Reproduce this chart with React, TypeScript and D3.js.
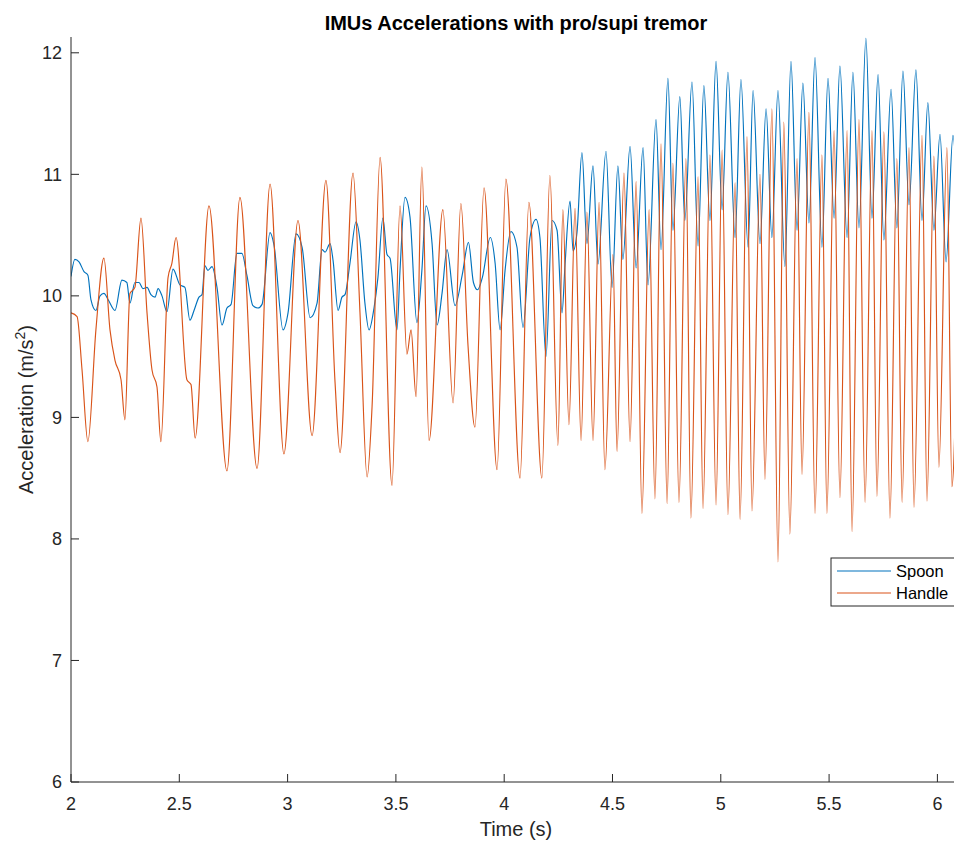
import React from "react";
import * as d3 from "d3";

// Handle (orange) — [time s, acceleration m/s²]
const handleSeries: [number, number][] = [
  [2.000, 9.86], [2.028, 9.83], [2.051, 9.39], [2.078, 8.80], [2.115, 9.72], [2.152, 10.31], [2.180, 9.72], [2.203, 9.47],
  [2.231, 9.31], [2.249, 8.98], [2.272, 10.02], [2.295, 10.07], [2.323, 10.64], [2.351, 9.86], [2.374, 9.39], [2.397, 9.25],
  [2.415, 8.80], [2.448, 10.15], [2.466, 10.27], [2.485, 10.48], [2.535, 9.31], [2.554, 9.27], [2.573, 8.83], [2.637, 10.74],
  [2.720, 8.56], [2.780, 10.81], [2.859, 8.58], [2.919, 10.92], [2.983, 8.70], [3.048, 10.62], [3.113, 8.85], [3.177, 10.95],
  [3.219, 9.29], [3.242, 8.71], [3.302, 11.01], [3.334, 9.87], [3.367, 8.51], [3.390, 9.09], [3.427, 11.14], [3.482, 8.44],
  [3.519, 10.74], [3.551, 9.52], [3.570, 9.72], [3.593, 9.17], [3.620, 11.06], [3.653, 8.81], [3.717, 10.71], [3.764, 9.12],
  [3.800, 10.76], [3.833, 9.59], [3.865, 8.92], [3.907, 10.89], [3.967, 8.57], [4.008, 10.96], [4.073, 8.50], [4.114, 10.77],
  [4.174, 8.50], [4.211, 10.99], [4.248, 8.77], [4.271, 10.71], [4.299, 8.94], [4.327, 10.72], [4.355, 8.81], [4.382, 10.69],
  [4.410, 8.81], [4.438, 10.77], [4.465, 8.57], [4.502, 10.34], [4.521, 8.72], [4.553, 11.01], [4.581, 8.80], [4.609, 10.94],
  [4.636, 8.21], [4.669, 10.71], [4.696, 8.33], [4.724, 11.25], [4.752, 8.29], [4.779, 11.09], [4.807, 8.30], [4.839, 11.13],
  [4.862, 8.17], [4.895, 10.98], [4.918, 8.25], [4.950, 11.16], [4.978, 8.28], [5.006, 11.20], [5.033, 8.20], [5.066, 10.93],
  [5.089, 8.16], [5.121, 11.31], [5.144, 8.23], [5.181, 11.00], [5.204, 8.49], [5.236, 11.54], [5.264, 7.81], [5.291, 11.43],
  [5.319, 8.04], [5.352, 11.13], [5.375, 8.53], [5.407, 11.51], [5.435, 8.21], [5.467, 11.16], [5.490, 8.21], [5.523, 11.36],
  [5.550, 8.34], [5.583, 11.36], [5.606, 8.06], [5.638, 11.45], [5.666, 8.30], [5.698, 11.36], [5.721, 8.35], [5.753, 11.35],
  [5.781, 8.17], [5.813, 11.13], [5.837, 8.30], [5.869, 11.22], [5.892, 8.26], [5.929, 11.32], [5.952, 8.31], [5.984, 11.15],
  [6.007, 8.59], [6.044, 11.22], [6.067, 8.43], [6.090, 9.55],
];

// Spoon (blue) — [time s, acceleration m/s²]
const spoonSeries: [number, number][] = [
  [2.000, 10.16], [2.018, 10.30], [2.037, 10.28], [2.060, 10.20], [2.078, 10.17], [2.092, 9.97], [2.115, 9.88], [2.134, 10.00],
  [2.152, 10.02], [2.171, 9.97], [2.203, 9.88], [2.235, 10.13], [2.258, 10.11], [2.272, 9.94], [2.295, 10.11], [2.314, 10.11],
  [2.332, 10.06], [2.351, 10.07], [2.369, 10.01], [2.388, 9.99], [2.402, 10.06], [2.420, 10.00], [2.443, 9.87], [2.471, 10.22],
  [2.503, 10.09], [2.526, 10.07], [2.549, 9.80], [2.568, 9.88], [2.591, 9.99], [2.605, 10.01], [2.618, 10.25], [2.632, 10.21],
  [2.651, 10.24], [2.674, 10.07], [2.697, 9.76], [2.720, 9.90], [2.739, 9.93], [2.766, 10.35], [2.789, 10.35], [2.812, 10.17],
  [2.840, 9.92], [2.863, 9.90], [2.882, 9.93], [2.919, 10.52], [2.937, 10.42], [2.979, 9.72], [3.002, 9.86], [3.039, 10.51],
  [3.067, 10.40], [3.104, 9.82], [3.136, 9.94], [3.159, 10.38], [3.173, 10.36], [3.196, 10.43], [3.210, 10.29], [3.233, 9.88],
  [3.251, 9.99], [3.265, 10.01], [3.288, 10.27], [3.316, 10.61], [3.334, 10.46], [3.357, 9.94], [3.376, 9.72], [3.399, 9.90],
  [3.417, 10.15], [3.440, 10.64], [3.459, 10.34], [3.473, 10.31], [3.505, 9.72], [3.519, 10.21], [3.542, 10.81], [3.565, 10.65],
  [3.597, 9.78], [3.620, 10.21], [3.639, 10.74], [3.667, 10.43], [3.690, 9.76], [3.713, 10.02], [3.736, 10.38], [3.773, 9.92],
  [3.806, 10.17], [3.835, 10.44], [3.858, 10.11], [3.877, 10.05], [3.899, 10.15], [3.936, 10.48], [3.958, 10.27], [3.981, 9.72],
  [4.004, 10.21], [4.031, 10.53], [4.059, 10.40], [4.087, 9.74], [4.119, 10.48], [4.147, 10.63], [4.165, 10.48], [4.193, 9.50],
  [4.221, 10.62], [4.244, 10.54], [4.267, 9.86], [4.281, 10.26], [4.304, 10.78], [4.318, 10.37], [4.336, 10.52], [4.359, 11.18],
  [4.382, 10.43], [4.410, 11.07], [4.433, 10.26], [4.470, 11.19], [4.498, 10.07], [4.525, 11.07], [4.548, 10.30], [4.581, 11.23],
  [4.609, 10.23], [4.641, 11.22], [4.664, 10.09], [4.701, 11.45], [4.724, 10.38], [4.756, 11.79], [4.779, 10.54], [4.811, 11.64],
  [4.834, 10.62], [4.867, 11.76], [4.895, 10.41], [4.922, 11.73], [4.950, 10.62], [4.978, 11.93], [5.006, 10.71], [5.033, 11.84],
  [5.066, 10.48], [5.093, 11.78], [5.126, 10.40], [5.149, 11.69], [5.181, 10.43], [5.209, 11.54], [5.236, 10.48], [5.264, 11.69],
  [5.296, 10.24], [5.324, 11.93], [5.352, 10.54], [5.379, 11.75], [5.407, 10.60], [5.435, 11.96], [5.467, 10.40], [5.495, 11.79],
  [5.523, 10.64], [5.550, 11.89], [5.583, 10.48], [5.610, 11.84], [5.638, 10.56], [5.670, 12.12], [5.698, 10.64], [5.726, 11.82],
  [5.753, 10.46], [5.786, 11.70], [5.813, 10.56], [5.841, 11.85], [5.869, 10.75], [5.901, 11.86], [5.929, 10.62], [5.956, 11.59],
  [5.984, 10.54], [6.012, 11.33], [6.040, 10.28], [6.072, 11.32], [6.095, 10.60],
];

const xTicks = [2, 2.5, 3, 3.5, 4, 4.5, 5, 5.5, 6];
const yTicks = [6, 7, 8, 9, 10, 11, 12];
const seriesNames = ["Spoon", "Handle"];
const seriesColors = ["#0072BD", "#D95319"];
const titleText = "IMUs Accelerations with pro/supi tremor";
const xLabel = "Time (s)";

const FONT = "'Liberation Sans', Arial, Helvetica, sans-serif";
const AX = "#262626";

export default function App() {
  const W = 954;
  const H = 842;
  const left = 71, right = 961, top = 37, bottom = 782;
  const x = d3.scaleLinear().domain([2, 6.109]).range([left, right]);
  const y = d3.scaleLinear().domain([6, 12.13]).range([bottom, top]);
  const line = d3
    .line<[number, number]>()
    .x((d) => x(d[0]))
    .y((d) => y(d[1]))
    .curve(d3.curveMonotoneX);

  const series = [spoonSeries, handleSeries];

  return (
    <svg
      width={W}
      height={H}
      style={{ position: "absolute", left: 0, top: 0, background: "#fff" }}
      fontFamily={FONT}
    >
      <defs>
        <clipPath id="plotClip">
          <rect x={left} y={top} width={right - left} height={bottom - top} />
        </clipPath>
      </defs>
      <rect x={0} y={0} width={W} height={H} fill="#fff" />

      <g clipPath="url(#plotClip)">
        {series.map((s, i) => (
          <path key={i} d={line(s) || ""} fill="none" stroke={seriesColors[i]} strokeWidth={1.15} strokeLinejoin="round" />
        ))}
      </g>

      {/* axes */}
      <line x1={left} y1={top} x2={left} y2={bottom} stroke={AX} strokeWidth={1} />
      <line x1={left} y1={bottom} x2={right} y2={bottom} stroke={AX} strokeWidth={1} />
      {yTicks.map((t) => (
        <g key={"y" + t}>
          <line x1={left} x2={left + 8} y1={y(t)} y2={y(t)} stroke={AX} strokeWidth={1} />
          <text x={left - 9} y={y(t)} dy="0.35em" textAnchor="end" fontSize={18} fill={AX}>
            {d3.format("~g")(t)}
          </text>
        </g>
      ))}
      {xTicks.map((t) => (
        <g key={"x" + t}>
          <line x1={x(t)} x2={x(t)} y1={bottom} y2={bottom - 8} stroke={AX} strokeWidth={1} />
          <text x={x(t)} y={bottom + 28} textAnchor="middle" fontSize={18} fill={AX}>
            {d3.format("~g")(t)}
          </text>
        </g>
      ))}

      {/* labels */}
      <text x={(left + right) / 2} y={30} textAnchor="middle" fontSize={20} fontWeight="bold" fill="#000">
        {titleText}
      </text>
      <text x={(left + right) / 2} y={836} textAnchor="middle" fontSize={20} fill={AX}>
        {xLabel}
      </text>
      <text transform={`translate(33, ${(top + bottom) / 2}) rotate(-90)`} textAnchor="middle" fontSize={20} fill={AX}>
        Acceleration (m/s<tspan dy={-8} fontSize={14}>2</tspan><tspan dy={8}>)</tspan>
      </text>

      {/* legend */}
      <g>
        <rect x={831} y={558} width={140} height={48} fill="#fff" stroke={AX} strokeWidth={1} />
        {seriesNames.map((n, i) => (
          <g key={n}>
            <line x1={837} x2={891} y1={571 + i * 22} y2={571 + i * 22} stroke={seriesColors[i]} strokeWidth={1.15} />
            <text x={896} y={571 + i * 22} dy="0.35em" fontSize={16.5} fill="#000">
              {n}
            </text>
          </g>
        ))}
      </g>
    </svg>
  );
}
